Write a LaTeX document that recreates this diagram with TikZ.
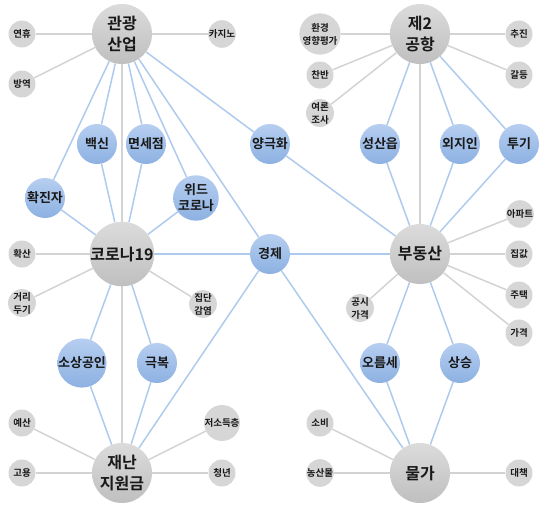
\documentclass[tikz,border=0pt]{standalone}
\usepackage{fontspec}
\setmainfont{Noto Sans CJK KR}[BoldFont={Noto Sans CJK KR Bold}]
\usetikzlibrary{backgrounds}
\definecolor{bgedge}{HTML}{AECBEE}
\definecolor{gredge}{HTML}{D3D3D3}
\tikzset{
  bignode/.style={circle,minimum size=60pt,inner sep=0pt,top color=gray!28,bottom color=gray!50,align=center,font=\bfseries\fontsize{16}{21}\selectfont,text=black!90},
  midnode/.style={circle,minimum size=40pt,inner sep=0pt,top color={rgb,255:red,182;green,206;blue,240},bottom color={rgb,255:red,141;green,177;blue,226},align=center,font=\bfseries\fontsize{13}{16}\selectfont,text=black!90},
  smallnode/.style={circle,minimum size=27pt,inner sep=0pt,fill=gray!32,align=center,font=\bfseries\fontsize{9.5}{13}\selectfont,text=black!90},
  bl/.style={draw=bgedge,line width=1.5pt},
  gr/.style={draw=gredge,line width=1.5pt}
}
\begin{document}
\begin{tikzpicture}[x=1pt,y=-1pt]
\useasboundingbox (0,0) rectangle (544,507);
% big nodes
\node[bignode] (A) at (122,34) {관광\\산업};
\node[bignode] (B) at (420,34) {제2\\공항};
\node[bignode] (C) at (122,254) {코로나19};
\node[bignode] (D) at (420,254) {부동산};
\node[bignode] (E) at (122,473) {재난\\지원금};
\node[bignode] (F) at (420,473) {물가};
% medium nodes
\node[midnode] (m1) at (97,144) {백신};
\node[midnode] (m2) at (146,144) {면세점};
\node[midnode] (m3) at (270,144) {양극화};
\node[midnode] (m4) at (380,144) {성산읍};
\node[midnode] (m5) at (460,144) {외지인};
\node[midnode] (m6) at (519,144) {투기};
\node[midnode] (m7) at (45,198) {확진자};
\node[midnode] (m8) at (196,198) {위드\\코로나};
\node[midnode] (m9) at (270,254) {경제};
\node[midnode] (m10) at (82,363) {소상공인};
\node[midnode] (m11) at (157,363) {극복};
\node[midnode] (m12) at (380,363) {오름세};
\node[midnode] (m13) at (460,363) {상승};
% small nodes
\node[smallnode] (s1) at (22,34) {연휴};
\node[smallnode] (s2) at (222,34) {카지노};
\node[smallnode] (s3) at (22,84) {방역};
\node[smallnode] (s4) at (320,34) {환경\\영향평가};
\node[smallnode] (s5) at (519,34) {추진};
\node[smallnode] (s6) at (320,75) {찬반};
\node[smallnode] (s7) at (519,75) {갈등};
\node[smallnode] (s8) at (320,113) {여론\\조사};
\node[smallnode] (s9) at (22,254) {확산};
\node[smallnode] (s10) at (22,303) {거리\\두기};
\node[smallnode] (s11) at (203,304) {집단\\감염};
\node[smallnode] (s12) at (520,214) {아파트};
\node[smallnode] (s13) at (519,254) {집값};
\node[smallnode] (s14) at (519,295) {주택};
\node[smallnode] (s15) at (519,333) {가격};
\node[smallnode] (s16) at (360,308) {공시\\가격};
\node[smallnode] (s17) at (22,423) {예산};
\node[smallnode] (s18) at (22,473) {고용};
\node[smallnode] (s19) at (222,423) {저소득층};
\node[smallnode] (s20) at (222,473) {청년};
\node[smallnode] (s21) at (320,423) {소비};
\node[smallnode] (s22) at (320,473) {농산물};
\node[smallnode] (s23) at (519,473) {대책};
\begin{pgfonlayer}{background}
% gray edges
\draw[gr] (A) -- (s1); \draw[gr] (A) -- (s2); \draw[gr] (A) -- (s3); \draw[gr] (A) -- (C);
\draw[gr] (B) -- (s4); \draw[gr] (B) -- (s5); \draw[gr] (B) -- (s6); \draw[gr] (B) -- (s7); \draw[gr] (B) -- (s8); \draw[gr] (B) -- (D);
\draw[gr] (C) -- (s9); \draw[gr] (C) -- (s10); \draw[gr] (C) -- (s11); \draw[gr] (C) -- (E);
\draw[gr] (D) -- (s12); \draw[gr] (D) -- (s13); \draw[gr] (D) -- (s14); \draw[gr] (D) -- (s15); \draw[gr] (D) -- (s16);
\draw[gr] (E) -- (s17); \draw[gr] (E) -- (s18); \draw[gr] (E) -- (s19); \draw[gr] (E) -- (s20);
\draw[gr] (F) -- (s21); \draw[gr] (F) -- (s22); \draw[gr] (F) -- (s23);
% blue edges
\draw[bl] (A) -- (m7); \draw[bl] (A) -- (m1); \draw[bl] (A) -- (m2); \draw[bl] (A) -- (m8); \draw[bl] (A) -- (m9); \draw[bl] (A) -- (m3);
\draw[bl] (C) -- (m7); \draw[bl] (C) -- (m1); \draw[bl] (C) -- (m2); \draw[bl] (C) -- (m8); \draw[bl] (C) -- (m9); \draw[bl] (C) -- (m10); \draw[bl] (C) -- (m11);
\draw[bl] (E) -- (m10); \draw[bl] (E) -- (m11); \draw[bl] (E) -- (m9);
\draw[bl] (m9) -- (D); \draw[bl] (m9) -- (F); \draw[bl] (m3) -- (D);
\draw[bl] (B) -- (m4); \draw[bl] (B) -- (m5); \draw[bl] (B) -- (m6);
\draw[bl] (D) -- (m4); \draw[bl] (D) -- (m5); \draw[bl] (D) -- (m6); \draw[bl] (D) -- (m12); \draw[bl] (D) -- (m13);
\draw[bl] (F) -- (m12); \draw[bl] (F) -- (m13);
\end{pgfonlayer}
\end{tikzpicture}
\end{document}
